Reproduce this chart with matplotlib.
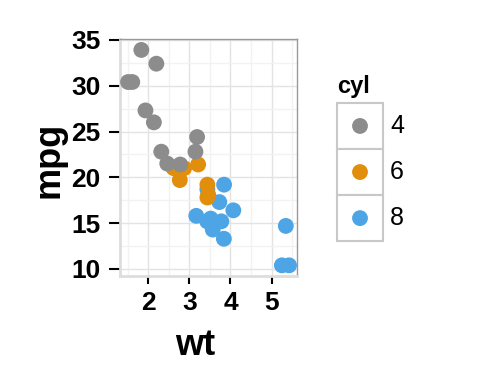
import matplotlib.pyplot as plt
from matplotlib.patches import Rectangle

# mtcars: weight (1000 lbs) vs miles per gallon, grouped by cylinders
wt_4 = [2.320, 3.190, 3.150, 2.200, 1.615, 1.835, 2.465, 1.935, 2.140, 1.513, 2.780]
mpg_4 = [22.8, 24.4, 22.8, 32.4, 30.4, 33.9, 21.5, 27.3, 26.0, 30.4, 21.4]

wt_6 = [2.620, 2.875, 3.215, 3.460, 3.440, 3.440, 2.770]
mpg_6 = [21.0, 21.0, 21.4, 18.1, 19.2, 17.8, 19.7]

wt_8 = [3.440, 3.570, 4.070, 3.730, 3.780, 5.250, 5.424, 5.345,
        3.520, 3.435, 3.840, 3.845, 3.170, 3.570]
mpg_8 = [18.7, 14.3, 16.4, 17.3, 15.2, 10.4, 10.4, 14.7,
         15.5, 15.2, 13.3, 19.2, 15.8, 15.0]

groups = ["4", "6", "8"]
colors = ["#8C8C8C", "#E08E0B", "#4DA5E5"]
series = [(wt_4, mpg_4), (wt_6, mpg_6), (wt_8, mpg_8)]

xticks = [2, 3, 4, 5]
yticks = [10, 15, 20, 25, 30, 35]

plt.rcParams["font.family"] = ["Liberation Sans", "DejaVu Sans"]

fig = plt.figure(figsize=(4.8, 3.84), dpi=100)
ax = fig.add_axes([0.25, 0.281, 0.369, 0.617])

# 8 first, then 6, then 4 on top (as in the reference overlaps)
for k in [2, 1, 0]:
    x, y = series[k]
    ax.scatter(x, y, s=130, color=colors[k], edgecolors="none",
               label=groups[k], zorder=3 + (2 - k))

ax.set_xlim(1.317, 5.620)
ax.set_ylim(9.225, 35.075)
ax.set_xticks(xticks)
ax.set_yticks(yticks)
ax.set_xticks([1.5, 2.5, 3.5, 4.5, 5.5], minor=True)
ax.set_yticks([12.5, 17.5, 22.5, 27.5, 32.5], minor=True)
ax.grid(True, which="major", color="#e3e3e3", linewidth=1.0, zorder=0)
ax.grid(True, which="minor", color="#f2f2f2", linewidth=1.0, zorder=0)
ax.set_axisbelow(True)
ax.tick_params(which="minor", length=0)
ax.tick_params(axis="y", which="major", length=8, width=1.5, color="black",
               pad=6, labelsize=19)
ax.tick_params(axis="x", which="major", length=6, width=1.5, color="black",
               pad=5, labelsize=19)
for lab in ax.get_xticklabels() + ax.get_yticklabels():
    lab.set_fontweight("bold")

for side in ["top", "right"]:
    ax.spines[side].set_color("#999999")
    ax.spines[side].set_linewidth(1.0)
for side in ["left", "bottom"]:
    ax.spines[side].set_color("#dddddd")
    ax.spines[side].set_linewidth(2.0)

ax.set_xlabel("wt", fontsize=26, fontweight="bold", va="center", ha="center")
ax.xaxis.set_label_coords(0.424, -0.295)
ax.set_ylabel("mpg", fontsize=26, fontweight="bold", va="center", ha="center")
ax.yaxis.set_label_coords(-0.40, 0.49)

# legend drawn as stacked key boxes
lax = fig.add_axes([0.702, 0.372, 0.096, 0.36])
lax.set_xlim(0, 1)
lax.set_ylim(0, len(groups))
lax.axis("off")
for i, (g, c) in enumerate(zip(groups, colors)):
    yy = len(groups) - 1 - i
    lax.add_patch(Rectangle((0, yy), 1, 1, facecolor="white",
                            edgecolor="#c8c8c8", linewidth=1.5, clip_on=False))
    lax.scatter([0.5], [yy + 0.5], s=130, color=c, edgecolors="none", clip_on=False)
    lax.text(1.15, yy + 0.5, g, fontsize=18, va="center", ha="left")
lax.text(0.0, len(groups) + 0.36, "cyl", fontsize=17, fontweight="bold",
         va="center", ha="left")

fig.savefig("out.png", dpi=100)
